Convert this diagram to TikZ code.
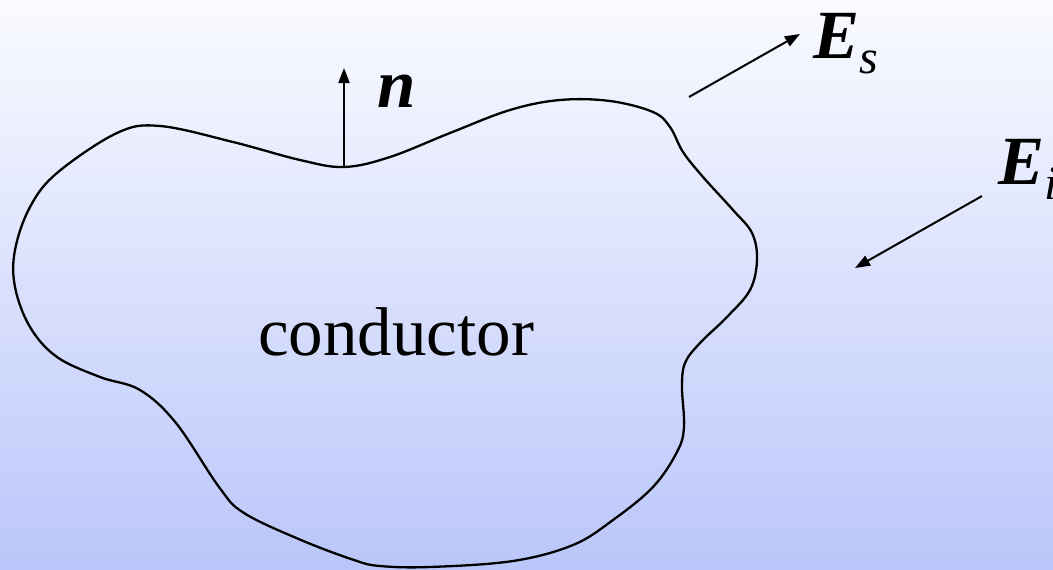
\documentclass[tikz,border=0pt]{standalone}
\usepackage{fontspec}
\setmainfont{Liberation Serif}
\usetikzlibrary{arrows.meta}
\definecolor{topc}{RGB}{250,251,255}
\definecolor{botc}{RGB}{186,198,250}
\tikzset{
  vec/.style={line width=2pt,-{Triangle[length=15pt,width=11pt]}},
  outline/.style={line width=2.3pt},
  big/.style={inner sep=0pt,font=\fontsize{69}{80}\selectfont},
}
\newcommand{\subtxt}[1]{\raisebox{-15pt}{\fontsize{48}{50}\selectfont\textit{#1}}}
\begin{document}
\begin{tikzpicture}[x=1pt,y=-1pt]
\useasboundingbox (0,0) rectangle (1053,570);
\shade[top color=topc,bottom color=botc] (0,0) rectangle (1053,570);
\draw[outline] plot[smooth cycle,tension=0.6] coordinates {
 (344,167) (390,157) (450,133) (510,110) (560,100) (610,101) (653,112) (670,127)
 (683,152) (703,177) (733,210) (752,233) (757,260) (750,290) (727,317) (700,343)
 (685,363) (682,387) (684,427) (677,452) (653,487) (613,520) (573,545) (513,561)
 (430,567) (380,566) (354,560) (301,540) (244,513) (219,487) (176,423) (140,390)
 (100,377) (57,357) (30,327) (15,287) (15,250) (30,207) (57,173) (117,133)
 (160,126) (233,142) (300,160)};
\coordinate (dip) at (344,167);
\coordinate (ntip) at (344,68);
\draw[vec] (dip) -- (ntip);
\node[big,anchor=base west] (n) at (377,107) {\textbf{\textit{n}}};
\node[big,anchor=base west] (lab) at (258,355) {conductor};
\coordinate (es0) at (689,97);
\coordinate (es1) at (800,34);
\draw[vec] (es0) -- (es1);
\node[big,anchor=base west] (Es) at (813,58) {\textbf{\textit{E}}\subtxt{s}};
\coordinate (ei0) at (982,196);
\coordinate (ei1) at (855,268);
\draw[vec] (ei0) -- (ei1);
\node[big,anchor=base west] (Ei) at (998,184) {\textbf{\textit{E}}\subtxt{i}};
\end{tikzpicture}
\end{document}
